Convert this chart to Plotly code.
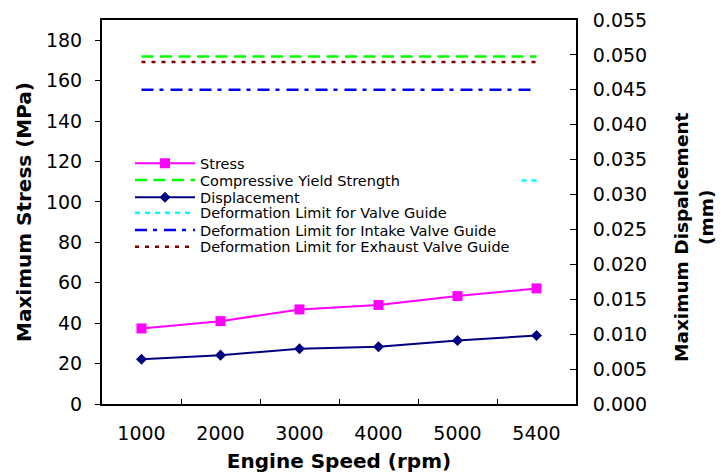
import plotly.graph_objects as go

# ---- data ----
speeds = ["1000", "2000", "3000", "4000", "5000", "5400"]
stress_mpa = [37.4, 41.0, 46.8, 49.0, 53.4, 57.2]
displacement_mm = [0.0064, 0.0070, 0.0079, 0.0082, 0.0091, 0.0098]
compressive_yield_mpa = 172
limit_valve_guide_mm = 0.032
limit_intake_mm = 0.045
limit_exhaust_mm = 0.049

# page body adds an 8px margin; the figure is sized so it fills the window
OFF = 8
W, H = 724 - OFF, 476 - OFF
L, T = 102 - OFF, 20 - OFF
R = W - (576 - OFF)
B = H - (404 - OFF)
PW, PH = W - L - R, H - T - B


def px_x(px):
    """window x pixel -> paper coordinate"""
    return (px - OFF - L) / PW


def px_y(py):
    """window y pixel -> paper coordinate"""
    return (H - B - (py - OFF)) / PH


FONT = "DejaVu Sans"
n = len(speeds)

fig = go.Figure()

fig.add_trace(go.Scatter(
    x=speeds, y=stress_mpa, name="Stress", mode="lines+markers",
    line=dict(color="#FF00FF", width=2),
    marker=dict(symbol="square", size=10, color="#FF00FF"),
    legend="legend"))
fig.add_trace(go.Scatter(
    x=speeds, y=[compressive_yield_mpa] * n, name="Compressive Yield Strength",
    mode="lines", line=dict(color="#00FF00", width=2.5, dash="12px,6.5px"),
    legend="legend2"))
fig.add_trace(go.Scatter(
    x=speeds, y=displacement_mm, name="Displacement", mode="lines+markers",
    yaxis="y2", line=dict(color="#000080", width=2),
    marker=dict(symbol="diamond", size=8.5, color="#000080"),
    legend="legend3"))
fig.add_trace(go.Scatter(
    x=speeds, y=[limit_valve_guide_mm] * n, name="Deformation Limit for Valve Guide",
    mode="lines", yaxis="y2", line=dict(color="#00FFFF", width=2.5, dash="5px,5px"),
    legend="legend4"))
fig.add_trace(go.Scatter(
    x=speeds, y=[limit_intake_mm] * n, name="Deformation Limit for Intake Valve Guide",
    mode="lines", yaxis="y2", line=dict(color="#0000FF", width=2.5, dash="12px,6px,4px,7px"),
    legend="legend5"))
fig.add_trace(go.Scatter(
    x=speeds, y=[limit_exhaust_mm] * n, name="Deformation Limit for Exhaust Valve Guide",
    mode="lines", yaxis="y2", line=dict(color="#800000", width=2.5, dash="4px,6px"),
    legend="legend6"))

axis_font = dict(family=FONT, size=19, color="black")
title_font = dict(family=FONT, size=20, color="black")

leg_rows = [163.3, 180, 197.3, 212.7, 230, 246.7]
legend_common = dict(
    x=px_x(130), xanchor="left", yanchor="middle",
    bgcolor="rgba(0,0,0,0)", borderwidth=0,
    font=dict(family=FONT, size=14.5, color="black"),
    itemwidth=60, itemclick=False, itemdoubleclick=False,
)
legend_layout = {}
for i, row in enumerate(leg_rows):
    key = "legend" if i == 0 else f"legend{i + 1}"
    legend_layout[key] = dict(legend_common, y=px_y(row))

fig.update_layout(
    width=W, height=H,
    margin=dict(l=L, r=R, t=T, b=B, autoexpand=False),
    paper_bgcolor="white", plot_bgcolor="white",
    showlegend=True,
    xaxis=dict(
        type="category", range=[-0.5, n - 0.5],
        showline=True, linecolor="black", linewidth=2, mirror=True,
        ticks="inside", ticklen=5, tickwidth=1, tickcolor="black",
        tickson="boundaries", showgrid=False, zeroline=False,
        tickfont=axis_font, ticklabelstandoff=11,
        title=dict(text="<b>Engine Speed (rpm)</b>", font=title_font, standoff=11),
    ),
    yaxis=dict(
        range=[0, 190], dtick=20, tick0=0,
        showline=True, linecolor="black", linewidth=2,
        ticks="outside", ticklen=5, tickwidth=1, tickcolor="black",
        showgrid=False, zeroline=False,
        tickfont=axis_font, ticklabelstandoff=9,
        title=dict(text="<b>Maximum Stress (MPa)</b>", font=title_font, standoff=9),
    ),
    yaxis2=dict(
        range=[0, 0.055], dtick=0.005, tick0=0, tickformat=".3f",
        overlaying="y", side="right",
        showline=True, linecolor="black", linewidth=2,
        ticks="inside", ticklen=6, tickwidth=1, tickcolor="black",
        showgrid=False, zeroline=False,
        tickfont=axis_font, ticklabelstandoff=11,
    ),
    shapes=[dict(
        type="rect", xref="paper", yref="paper", layer="above",
        x0=px_x(128), x1=px_x(519), y0=px_y(256), y1=px_y(152),
        fillcolor="white", line=dict(width=0),
    )],
    annotations=[
        dict(text="<b>Maximum Dispalcement</b>", textangle=-90,
             xref="paper", yref="paper", x=px_x(681.5), y=px_y(237.5),
             xanchor="center", yanchor="middle", showarrow=False,
             font=dict(family=FONT, size=18.5, color="black")),
        dict(text="<b>(mm)</b>", textangle=-90,
             xref="paper", yref="paper", x=px_x(706), y=px_y(218),
             xanchor="center", yanchor="middle", showarrow=False,
             font=dict(family=FONT, size=18.5, color="black")),
    ],
    **legend_layout,
)

fig.write_html("out.html")
